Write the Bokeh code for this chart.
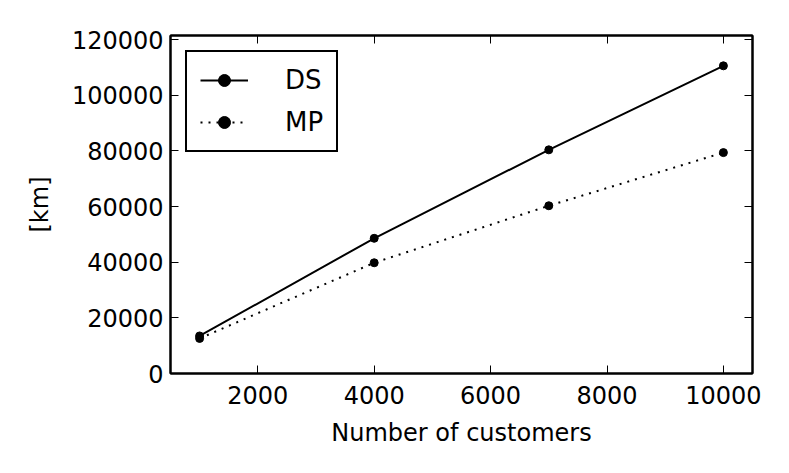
from bokeh.plotting import figure
from bokeh.models import Range1d, LinearAxis, Legend, LegendItem, FixedTicker, BasicTickFormatter
from bokeh.embed import file_html
from bokeh.resources import INLINE

customers = [1000, 4000, 7000, 10000]
ds_km = [13500, 48600, 80400, 110600]
mp_km = [12600, 39800, 60300, 79400]
x_ticks = [2000, 4000, 6000, 8000, 10000]
y_ticks = [0, 20000, 40000, 60000, 80000, 100000, 120000]

FONT = "DejaVu Sans"

p = figure(width=781, height=465,
           x_range=Range1d(500, 10500), y_range=Range1d(0, 121500),
           output_backend="svg", toolbar_location=None,
           min_border_left=170, min_border_top=35, min_border_right=29, min_border_bottom=92,
           background_fill_color="white", border_fill_color="white")
p.grid.visible = False
p.outline_line_color = "black"
p.outline_line_width = 2

r_ds = p.line(customers, ds_km, line_color="black", line_width=2)
s_ds = p.scatter(customers, ds_km, size=8, fill_color="black", line_color="black")
r_mp = p.line(customers, mp_km, line_color="black", line_width=2, line_dash="2 6")
s_mp = p.scatter(customers, mp_km, size=8, fill_color="black", line_color="black")

def style_axis(ax, labels=True):
    ax.axis_line_color = "black"
    ax.axis_line_width = 2
    ax.major_tick_in = 8
    ax.major_tick_out = 0
    ax.major_tick_line_color = "black"
    ax.major_tick_line_width = 1
    ax.minor_tick_line_color = None
    if labels:
        ax.major_label_text_font = FONT
        ax.major_label_text_font_size = "24px"
        ax.major_label_text_color = "black"
        ax.axis_label_text_font = FONT
        ax.axis_label_text_font_size = "24px"
        ax.axis_label_text_font_style = "normal"
        ax.axis_label_text_color = "black"
    else:
        ax.major_label_text_color = None
        ax.major_label_text_font_size = "2px"
        ax.major_label_standoff = 0

xa = p.xaxis[0]
xa.ticker = FixedTicker(ticks=x_ticks)
xa.formatter = BasicTickFormatter(use_scientific=False)
xa.axis_label = "Number of customers"
xa.major_label_standoff = 12
xa.axis_label_standoff = 12
style_axis(xa)

ya = p.yaxis[0]
ya.ticker = FixedTicker(ticks=y_ticks)
ya.formatter = BasicTickFormatter(use_scientific=False)
ya.axis_label = "[km]"
ya.major_label_standoff = 7
ya.axis_label_standoff = 15
style_axis(ya)

top_ax = LinearAxis(ticker=FixedTicker(ticks=x_ticks))
style_axis(top_ax, labels=False)
p.add_layout(top_ax, "above")
right_ax = LinearAxis(ticker=FixedTicker(ticks=y_ticks))
style_axis(right_ax, labels=False)
p.add_layout(right_ax, "right")

legend = Legend(items=[LegendItem(label="DS", renderers=[r_ds, s_ds]),
                       LegendItem(label="MP", renderers=[r_mp, s_mp])],
                location="top_left")
legend.margin = 15
legend.padding = 13
legend.spacing = 12
legend.glyph_width = 48
legend.glyph_height = 30
legend.label_height = 30
legend.label_standoff = 37
legend.label_text_font = FONT
legend.label_text_font_size = "26px"
legend.label_text_color = "black"
legend.border_line_color = "black"
legend.border_line_alpha = 1
legend.border_line_width = 2
legend.background_fill_color = "white"
legend.background_fill_alpha = 1
p.add_layout(legend)

open("out.html", "w").write(file_html(p, INLINE))
